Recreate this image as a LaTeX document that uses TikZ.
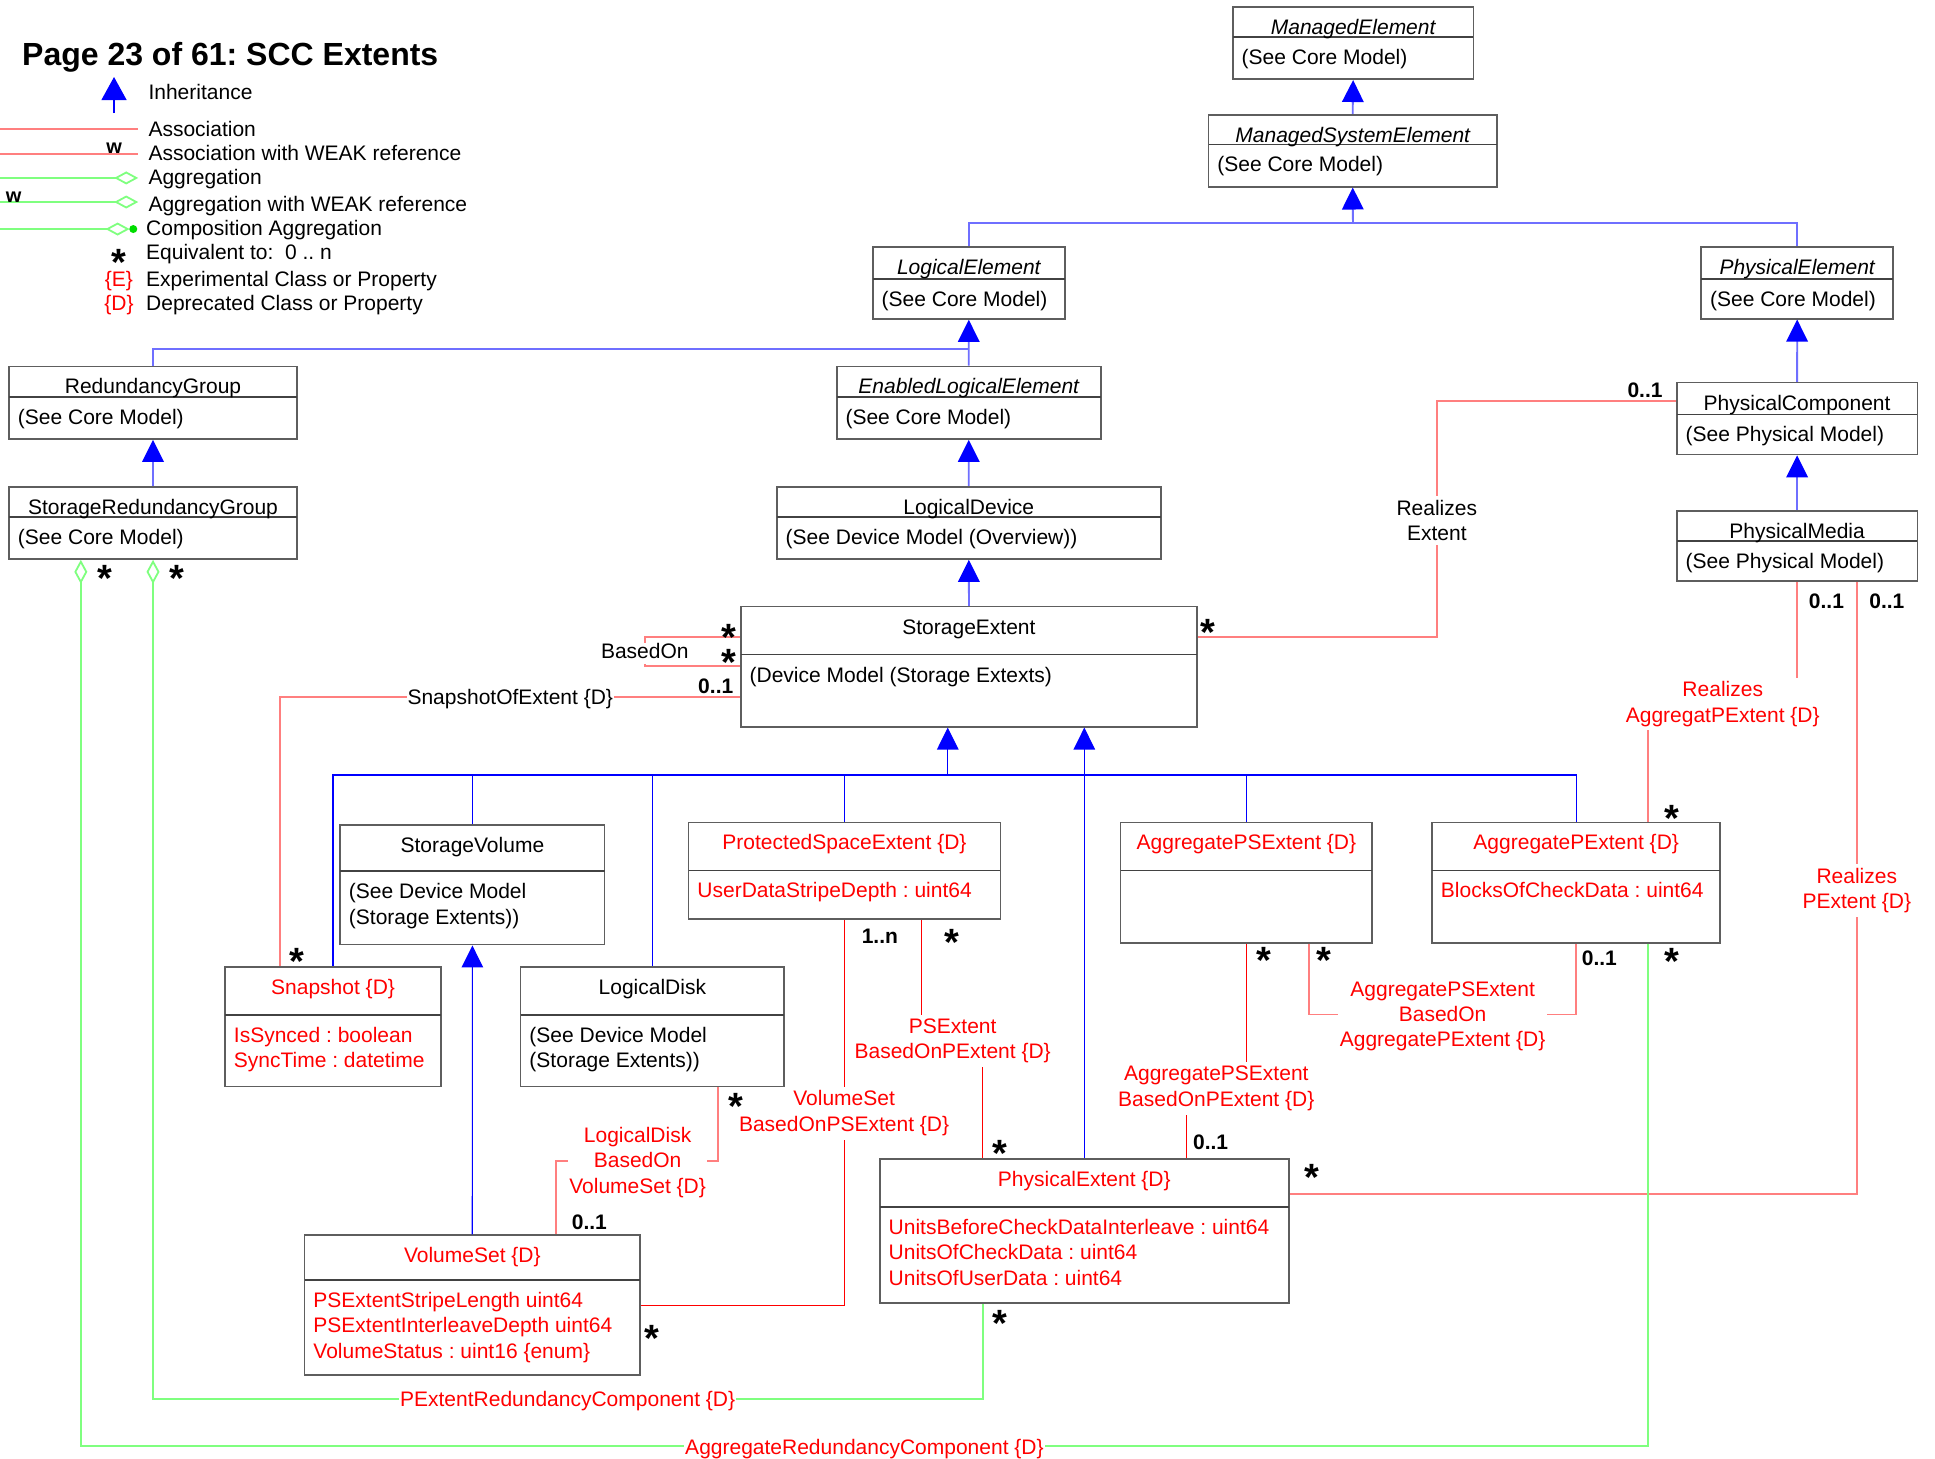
\documentclass[tikz,border=0pt]{standalone}
\usepackage{fontspec}
\setmainfont{Liberation Sans}
\usetikzlibrary{fit,arrows.meta}
\frenchspacing
\definecolor{boxgray}{HTML}{5E5E5E}
\definecolor{inhlight}{HTML}{6F6FFF}
\definecolor{assoclight}{HTML}{FF7F7F}
\definecolor{agglight}{HTML}{7FFF7F}
\definecolor{dred}{HTML}{FF0000}
\definecolor{cgreen}{HTML}{00DD00}
\newcommand\fsz{\fontsize{21pt}{25.3pt}\selectfont}
\newcommand\umlclass[9]{%
  \node[box, fit={(#2,#3) (#4,#5)}] (#1) {};
  \draw[divl] (#2,#6) -- (#4,#6);
  \node[txt,#8] (#1-t) at ({(#2+#4)/2},{#3+17.9}) {#7};
  \foreach \bodyline [count=\nn] in {#9} {%
    \node[txt,#8,anchor=west] (#1-b\nn) at ({#2+7},{#6+17.9+(\nn-1)*20.8}) {\bodyline};}%
}
\tikzset{
  every node/.style={inner sep=0pt, font=\fsz},
  txt/.style={text height=15pt, text depth=4.5pt},
  box/.style={draw=boxgray, line width=1.6pt, inner sep=0pt},
  divl/.style={draw=boxgray!70!black, line width=1.6pt},
  redt/.style={text=dred},
  blkt/.style={text=black},
  inhA/.style={draw=inhlight, line width=1.8pt},
  inhB/.style={draw=blue, line width=1.2pt},
  assoc/.style={draw=assoclight, line width=1.8pt},
  assocB/.style={draw=dred, line width=1.2pt},
  agg/.style={draw=agglight, line width=1.8pt},
  lbl/.style={fill=white, inner xsep=1pt, inner ysep=1pt, txt},
  mlbl/.style={fill=white, inner xsep=1.5pt, inner ysep=4pt, align=center},
  mult/.style={font=\fsz\bfseries, txt},
  star/.style={font=\fontsize{38pt}{38pt}\selectfont\bfseries, anchor=base},
  tri/.tip={Triangle[width=21.5pt,length=22pt,color=blue]},
  dia/.tip={Diamond[open,length=24pt,width=13pt]},
}
\begin{document}
\begin{tikzpicture}[x=1.234pt, y=-1.234pt]
\fill[white] (0,0) rectangle (1568,1182);
\useasboundingbox (0,0) rectangle (1568,1182);

% ---------- title and legend ----------
\node[font=\fontsize{32pt}{36pt}\selectfont\bfseries, anchor=base west] (title) at (17.8,52.7) {Page 23 of 61: SCC Extents};
\draw[inhB, -{Triangle[width=25pt,length=23pt,color=blue]}] (92.4,91.6) -- (92.4,62.4);
\draw[assoc] (0,104.5) -- (112,104.5);
\draw[assoc] (0,124.8) -- (112,124.8);
\node[font=\fontsize{20pt}{20pt}\selectfont\bfseries] (lgw1) at (92.6,120) {w};
\draw[agg, -dia] (0,144.2) -- (112,144.2);
\draw[agg, -dia] (0,163.7) -- (112,163.7);
\node[font=\fontsize{20pt}{20pt}\selectfont\bfseries] (lgw2) at (11,160) {w};
\draw[agg, -dia] (0,185.6) -- (105,185.6);
\fill[cgreen] (108,185.6) circle[radius=4pt];
\node[star] (s0) at (96.5,223.6) {*};
\node[txt,redt] (lgE) at (96.4,228) {\{E\}};
\node[txt,redt] (lgD) at (96.4,247) {\{D\}};
\node[txt,anchor=west] (lg1) at (120.2,76.2) {Inheritance};
\node[txt,anchor=west] (lg2) at (120.2,106.3) {Association};
\node[txt,anchor=west] (lg3) at (120.2,126) {Association with WEAK reference};
\node[txt,anchor=west] (lg4) at (120.2,145.2) {Aggregation};
\node[txt,anchor=west] (lg5) at (120.2,166.8) {Aggregation with WEAK reference};
\node[txt,anchor=west] (lg6) at (118.3,186.3) {Composition Aggregation};
\node[txt,anchor=west] (lg7) at (118.3,206) {Equivalent to:\ \ 0 .. n};
\node[txt,anchor=west] (lg8) at (118.3,228) {Experimental Class or Property};
\node[txt,anchor=west] (lg9) at (118.3,247) {Deprecated Class or Property};

% ---------- classes ----------
\umlclass{me}{999}{5.6}{1194}{64.2}{30.1}{\itshape ManagedElement}{blkt}{{(See Core Model)}}
\umlclass{mse}{979.3}{93}{1213}{151.3}{117.2}{\itshape ManagedSystemElement}{blkt}{{(See Core Model)}}
\umlclass{le}{707.3}{200}{862.8}{258.5}{226}{\itshape LogicalElement}{blkt}{{(See Core Model)}}
\umlclass{pe}{1378.6}{200}{1534}{258.3}{226}{\itshape PhysicalElement}{blkt}{{(See Core Model)}}
\umlclass{rg}{7.4}{297}{240.6}{355.8}{321.7}{RedundancyGroup}{blkt}{{(See Core Model)}}
\umlclass{ele}{678}{297}{892}{355.8}{321.7}{\itshape EnabledLogicalElement}{blkt}{{(See Core Model)}}
\umlclass{pc}{1358.8}{310.1}{1553.7}{368.4}{335.9}{PhysicalComponent}{blkt}{{(See Physical Model)}}
\umlclass{srg}{7.4}{394.4}{240.6}{453}{418.7}{StorageRedundancyGroup}{blkt}{{(See Core Model)}}
\umlclass{ld}{629.5}{394.4}{940.6}{453}{418.7}{LogicalDevice}{blkt}{{(See Device Model (Overview))}}
\umlclass{pm}{1358.8}{414}{1553.7}{471}{438.2}{PhysicalMedia}{blkt}{{(See Physical Model)}}
\umlclass{se}{600.3}{491.6}{970}{588.9}{530.5}{StorageExtent}{blkt}{{(Device Model (Storage Extexts)}}
\umlclass{sv}{275.6}{668.6}{490}{765.5}{706}{StorageVolume}{blkt}{{(See Device Model},{(Storage Extents))}}
\umlclass{pse}{558}{666.5}{810.6}{744.8}{705.5}{ProtectedSpaceExtent \{D\}}{redt}{{UserDataStripeDepth : uint64}}
\umlclass{apse}{908}{666.5}{1112}{764}{705.5}{AggregatePSExtent \{D\}}{redt}{}
\umlclass{ape}{1160.5}{666.5}{1394}{764}{705.5}{AggregatePExtent \{D\}}{redt}{{BlocksOfCheckData : uint64}}
\umlclass{snap}{182.4}{783.6}{357.4}{880.5}{822.4}{Snapshot \{D\}}{redt}{{IsSynced : boolean},{SyncTime : datetime}}
\umlclass{ldisk}{421.9}{783.6}{635.4}{880.5}{822.4}{LogicalDisk}{blkt}{{(See Device Model},{(Storage Extents))}}
\umlclass{pext}{713}{939.2}{1044.3}{1056}{977.9}{PhysicalExtent \{D\}}{redt}{{UnitsBeforeCheckDataInterleave : uint64},{UnitsOfCheckData : uint64},{UnitsOfUserData : uint64}}
\umlclass{vs}{246.8}{1000.8}{518.7}{1114}{1037}{VolumeSet \{D\}}{redt}{{PSExtentStripeLength uint64},{PSExtentInterleaveDepth uint64},{VolumeStatus : uint16 \{enum\}}}

% ---------- inheritance ----------
\coordinate (b1) at (1096.3,180.4);
\coordinate (b2) at (785,282.8);
\coordinate (b3) at (768,628);
\draw[inhA,-tri] (mse.north) -- (me.south);
\draw[inhA] (le.north) |- (b1) -| (pe.north);
\draw[inhA,-tri] (b1) -- (mse.south);
\draw[inhA] (rg.north) |- (b2);
\draw[inhA,-tri] (ele.north) -- (le.south);
\draw[inhA,-tri] (pc.north) -- (pe.south);
\draw[inhA,-tri] (srg.north) -- (rg.south);
\draw[inhA,-tri] (ld.north) -- (ele.south);
\draw[inhA,-tri] (pm.north) -- (pc.south);
\draw[inhA,-tri] (se.north) -- (ld.south);
\draw[inhB] (snap.north) -- (snap.north |- b3) -- (ape.north |- b3) -- (ape.north);
\draw[inhB] (sv.north) -- (sv.north |- b3);
\draw[inhB] (ldisk.north) -- (ldisk.north |- b3);
\draw[inhB] (pse.north) -- (pse.north |- b3);
\draw[inhB] (apse.north) -- (apse.north |- b3);
\draw[inhB,-tri] (b3) -- (se.south -| b3);
\draw[inhB,-tri] (pext.north) -- (se.south -| pext.north);
\draw[inhB,-tri] (vs.north) -- (sv.south);

% ---------- associations ----------
\draw[assoc] (se.west |- 0,516) -| (522.9,528) |- (se.west |- 0,540);
\draw[assoc] (se.west |- 0,564.6) -| (snap.north -| 226.6,0);
\draw[assoc] (se.east |- 0,516) -| (1164.3,420) |- (pc.west |- 0,324.7);
\draw[assoc] (pm.south) |- (1396,569) -| (ape.north -| 1335.5,0);
\draw[assoc] (pm.south -| 1504.6,0) |- (pext.east |- 0,967.8);
\draw[assocB] (pse.south -| 747,0) |- (771.5,841) -| (pext.north -| 796.3,0);
\draw[assocB] (pse.south) |- (vs.east |- 0,1057.6);
\draw[assoc] (ldisk.south -| 582,0) |- (516.7,940.6) -| (vs.north -| 450.6,0);
\draw[assocB] (apse.south) |- (985.6,881) -| (pext.north -| 961.7,0);
\draw[assoc] (apse.south -| 1061,0) |- (1169,822) -| (ape.south);

% ---------- aggregations ----------
\draw[agg, dia-] (srg.south) |- (460,1133.5) -| (pext.south -| 796.3,0);
\draw[agg, dia-] (srg.south -| 65.5,0) |- (700.5,1172) -| (ape.south -| 1335.5,0);

% ---------- connector labels ----------
\node[lbl,blkt] (lbBasedOn) at (522.5,529.5) {BasedOn};
\node[lbl,blkt] (lbSnap) at (413.5,566.5) {SnapshotOfExtent \{D\}};
\node[mlbl,blkt] (lbRE) at (1164.3,421.5) {Realizes\\Extent};
\node[mlbl,redt] (lbRAP) at (1396,570.5) {Realizes\\AggregatPExtent \{D\}};
\node[mlbl,redt] (lbRP) at (1504.6,721.5) {Realizes\\PExtent \{D\}};
\node[mlbl,redt] (lbPSE) at (772,843.5) {PSExtent\\BasedOnPExtent \{D\}};
\node[mlbl,redt] (lbVS) at (684,902) {VolumeSet\\BasedOnPSExtent \{D\}};
\node[mlbl,redt] (lbLD) at (516.7,942) {LogicalDisk\\BasedOn\\VolumeSet \{D\}};
\node[mlbl,redt] (lbAPP) at (985.6,882) {AggregatePSExtent\\BasedOnPExtent \{D\}};
\node[mlbl,redt] (lbAPA) at (1169,823.5) {AggregatePSExtent\\BasedOn\\AggregatePExtent \{D\}};
\node[lbl,redt] (lbPRC) at (460,1135.4) {PExtentRedundancyComponent \{D\}};
\node[lbl,redt] (lbARC) at (700.5,1174) {AggregateRedundancyComponent \{D\}};

% ---------- multiplicities ----------
\node[mult] (m1) at (580,558) {0..1};
\node[mult] (m2) at (1333,317.6) {0..1};
\node[mult] (m3) at (1480,489) {0..1};
\node[mult] (m4) at (1529,489) {0..1};
\node[mult] (m5) at (713,760.5) {1..n};
\node[mult] (m6) at (477.6,992) {0..1};
\node[mult] (m7) at (981,927) {0..1};
\node[mult] (m8) at (1296,778) {0..1};
\node[star] (s1) at (84.8,479) {*};
\node[star] (s2) at (143.4,479) {*};
\node[star] (s3) at (590.4,527.5) {*};
\node[star] (s4) at (590.4,547) {*};
\node[star] (s5) at (979,522.7) {*};
\node[star] (s6) at (240.7,790) {*};
\node[star] (s7) at (771.5,774) {*};
\node[star] (s8) at (596.3,907) {*};
\node[star] (s9) at (1024,789) {*};
\node[star] (s10) at (1073,789) {*};
\node[star] (s11) at (1354.6,673.5) {*};
\node[star] (s12) at (1354.6,790) {*};
\node[star] (s13) at (810.4,945) {*};
\node[star] (s14) at (1063,964.5) {*};
\node[star] (s15) at (810.4,1082.6) {*};
\node[star] (s16) at (528.3,1095) {*};
\end{tikzpicture}
\end{document}
